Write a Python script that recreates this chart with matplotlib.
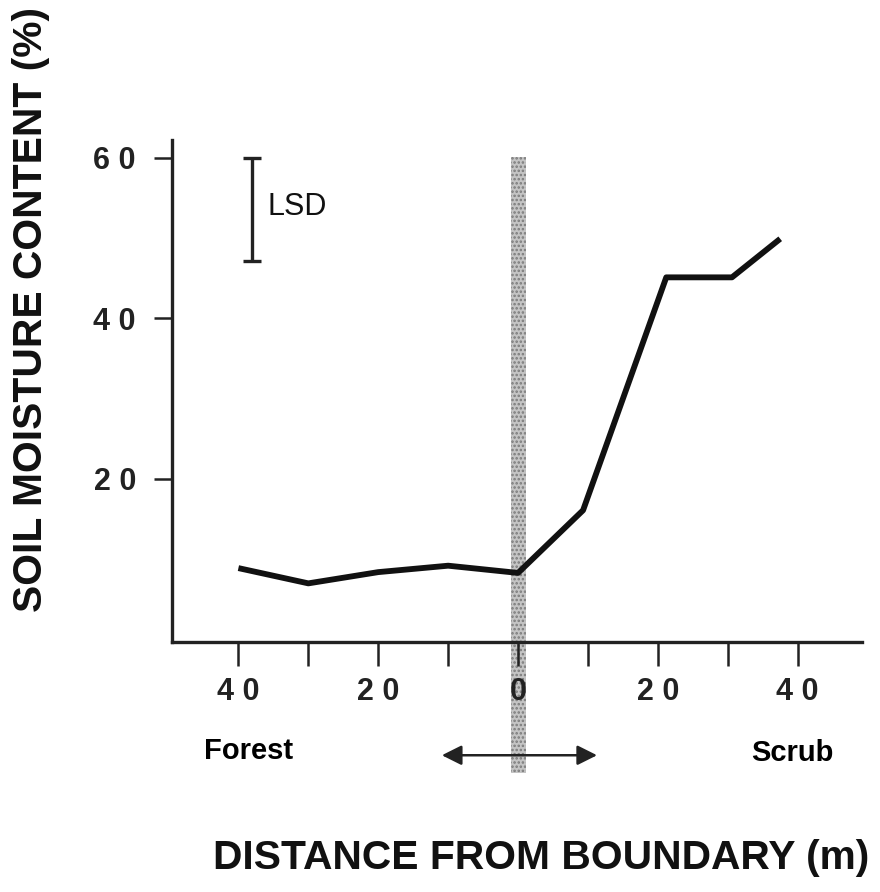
import matplotlib
matplotlib.use("Agg")
import matplotlib.pyplot as plt
from matplotlib.patches import Rectangle

plt.rcParams["font.family"] = ["Liberation Sans", "DejaVu Sans"]
plt.rcParams["hatch.linewidth"] = 1.2

# distance from boundary (m): negative = forest side, positive = scrub side
distance = [-40, -30, -20, -10, 0, 9.3, 21.2, 30.6, 37.5]
moisture = [8.9, 7.0, 8.4, 9.2, 8.3, 16.1, 45.1, 45.1, 49.9]

x_ticks = [-40, -30, -20, -10, 0, 10, 20, 30, 40]
x_tick_labels = ["4 0", "", "2 0", "", "0", "", "2 0", "", "4 0"]
y_ticks = [20, 40, 60]
y_tick_labels = ["2 0", "4 0", "6 0"]

lsd_x = -38.1
lsd_low, lsd_high = 47.1, 60.0

fig = plt.figure(figsize=(8.8, 8.92), dpi=100)
ax = fig.add_axes([172 / 880, 1 - 642 / 892, (862 - 172) / 880, (642 - 140) / 892])

# boundary band, runs below the axis down to the arrow
band = Rectangle((-1.0, -16.6), 2.1, 60.1 + 16.6, facecolor="#c4c4c4",
                 edgecolor="#7a7a7a", hatch="....", linewidth=0,
                 clip_on=False, zorder=1)
ax.add_patch(band)

ax.plot(distance, moisture, color="#111111", lw=4.2, zorder=3,
        solid_capstyle="butt")

ax.errorbar([lsd_x], [(lsd_low + lsd_high) / 2], yerr=[(lsd_high - lsd_low) / 2],
            fmt="none", ecolor="#222222", elinewidth=2.4, capsize=6.8,
            capthick=2.4, zorder=3)
ax.text(lsd_x + 2.2, 53.8, "LSD", fontsize=22, va="center", ha="left",
        color="#111111")

ax.set_xlim(-49.5, 49.2)
ax.set_ylim(-0.3, 62.2)

ax.set_xticks(x_ticks, x_tick_labels, fontsize=22, fontweight="bold")
ax.set_yticks(y_ticks, y_tick_labels, fontsize=22, fontweight="bold")
ax.tick_params(axis="x", direction="out", length=17, width=1.8, pad=8,
               colors="#222222")
ax.tick_params(axis="y", direction="out", length=13, width=1.8, pad=13,
               colors="#222222")

for side in ["top", "right"]:
    ax.spines[side].set_visible(False)
for side in ["left", "bottom"]:
    ax.spines[side].set_linewidth(2.4)
    ax.spines[side].set_color("#222222")

ax.text(-38.5, -13.9, "Forest", fontsize=21, fontweight="bold",
        ha="center", va="center", clip_on=False)
ax.text(39.2, -14.1, "Scrub", fontsize=21, fontweight="bold",
        ha="center", va="center", clip_on=False)

ax.annotate("", xy=(-10.9, -14.4), xytext=(11.3, -14.4),
            arrowprops=dict(arrowstyle="<|-|>", color="#222222", lw=1.8,
                            mutation_scale=30, shrinkA=0, shrinkB=0),
            annotation_clip=False, zorder=2)

fig.text(31 / 880, 1 - 310 / 892, "SOIL MOISTURE CONTENT (%)", rotation=90,
         fontsize=29.3, fontweight="bold", ha="center", va="center",
         color="#111111")
fig.text(541 / 880, 1 - 858 / 892, "DISTANCE FROM BOUNDARY (m)",
         fontsize=29.3, fontweight="bold", ha="center", va="center",
         color="#111111")

fig.savefig("out.png", dpi=100, facecolor="white")
